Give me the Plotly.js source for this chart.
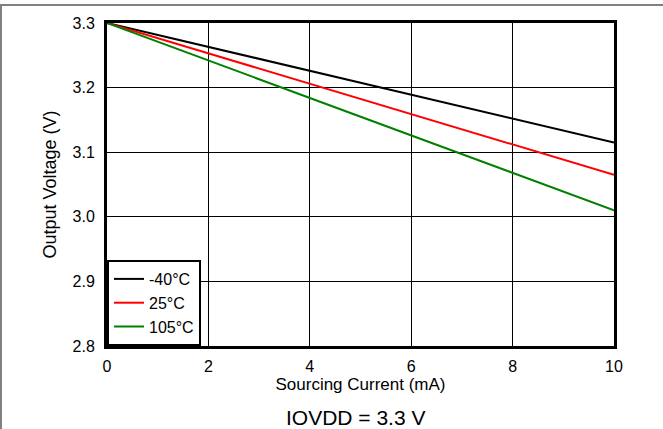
<!DOCTYPE html>
<html><head><meta charset="utf-8">
<script src="https://cdn.plot.ly/plotly-3.0.1.min.js"></script>
<style>
html,body{margin:0;padding:0;background:#fff;}
#wrap{position:relative;width:663px;height:429px;overflow:hidden;}
#chart{position:absolute;left:0;top:0;width:663px;height:429px;}
#frame{position:absolute;left:0;top:4px;width:661px;height:425px;border-top:2px solid #808080;border-left:2px solid #808080;pointer-events:none;}
</style></head>
<body><div id="wrap"><div id="chart"></div><div id="frame"></div></div>
<script>
var current = [0, 2, 4, 6, 8, 10];
var vM40 = [3.300, 3.263, 3.226, 3.189, 3.152, 3.115];
var v25 = [3.300, 3.253, 3.206, 3.159, 3.112, 3.065];
var v105 = [3.300, 3.242, 3.184, 3.126, 3.068, 3.010];
var seriesNames = ['-40°C', '25°C', '105°C'];
var seriesColors = ['#000000', '#ff0000', '#008000'];
var xTicks = [0, 2, 4, 6, 8, 10];
var yTicks = [2.8, 2.9, 3.0, 3.1, 3.2, 3.3];
var yTickText = ['2.8', '2.9', '3.0', '3.1', '3.2', '3.3'];

var ys = [vM40, v25, v105];
var data = ys.map(function(v, i){
  return {x: current, y: v, type: 'scatter', mode: 'lines', name: seriesNames[i],
    line: {color: seriesColors[i], width: 2}};
});
var font = {family: 'Liberation Sans, Arial, sans-serif', color: '#000', size: 16};
var layout = {
  width: 663, height: 429,
  margin: {l: 107, r: 49, t: 23, b: 83},
  paper_bgcolor: '#fff', plot_bgcolor: '#fff',
  font: font,
  showlegend: true,
  xaxis: {range: [0, 10], tickvals: xTicks, ticks: 'outside', ticklen: 4, tickcolor: 'rgba(0,0,0,0)', showgrid: true, gridcolor: '#000', gridwidth: 1,
    zeroline: false, showline: true, linecolor: '#000', linewidth: 3, mirror: true,
    tickfont: {size: 16}, title: {text: 'Sourcing Current (mA)', font: {size: 17}, standoff: 2}},
  yaxis: {range: [2.8, 3.3], tickvals: yTicks, ticktext: yTickText, ticks: 'outside', ticklen: 6, tickcolor: 'rgba(0,0,0,0)', showgrid: true, gridcolor: '#000', gridwidth: 1,
    zeroline: false, showline: true, linecolor: '#000', linewidth: 3, mirror: true,
    tickfont: {size: 16}, title: {text: 'Output Voltage (V)', font: {size: 18}, standoff: 12}},
  legend: {x: 0, y: 0, xanchor: 'left', yanchor: 'bottom', bgcolor: '#fff', bordercolor: '#000', borderwidth: 2,
    font: {size: 16}, itemwidth: 30, tracegroupgap: 0},
  annotations: [{text: 'IOVDD = 3.3 V', xref: 'paper', yref: 'paper', x: 0.49, y: -0.222, yanchor: 'middle',
    showarrow: false, font: {size: 21}}]
};
Plotly.newPlot('chart', data, layout, {displayModeBar: false, staticPlot: true});
</script></body></html>
